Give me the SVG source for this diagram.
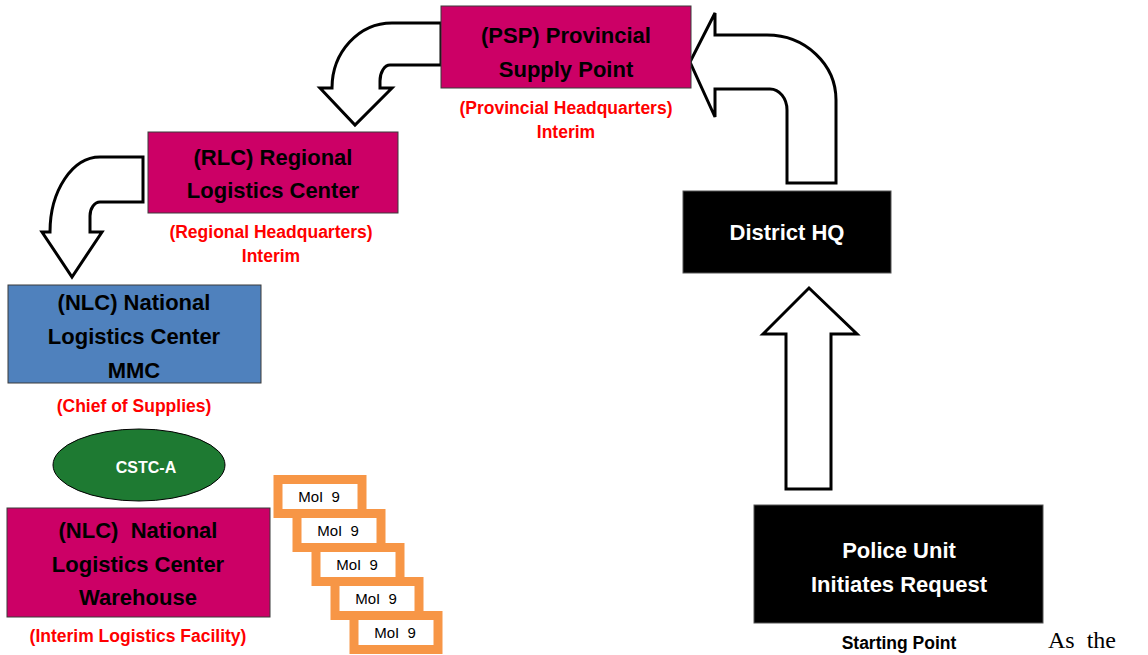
<svg xmlns="http://www.w3.org/2000/svg" width="1148" height="655" viewBox="0 0 1148 655">
  <style>
    .box { fill: #CC0066; stroke: #3a3a3a; stroke-width: 1; }
    .blue { fill: #4F81BD; stroke: #3a3a3a; stroke-width: 1; }
    .dark { fill: #000000; stroke: #555555; stroke-width: 1; }
    .title { font-family: "Liberation Sans", Arial, sans-serif; font-weight: bold; font-size: 22px; text-anchor: middle; fill: #000000; }
    .white { fill: #FFFFFF; }
    .note { font-family: "Liberation Sans", Arial, sans-serif; font-weight: bold; font-size: 17.5px; text-anchor: middle; fill: #FF0000; }
    .arrow { fill: #FFFFFF; stroke: #000000; stroke-width: 3; stroke-linejoin: miter; }
    .tag { fill: #FFFFFF; stroke: #F79646; stroke-width: 9; }
    .tagtext { font-family: "Liberation Sans", Arial, sans-serif; font-size: 15px; text-anchor: middle; fill: #000000; }
  </style>

  <rect width="1148" height="655" fill="#FFFFFF"/>

  <!-- block arrows between the stations -->
  <g id="connectors">
    <path class="arrow" d="M 441,23 L 392,23 A 60 65 0 0 0 332,88 L 320,88 L 355,125 L 392,88 L 380,88 L 380,81 A 10 16 0 0 1 390,65 L 441,65 Z"/>
    <path class="arrow" d="M 143,157 L 100,157 A 50 75 0 0 0 50,232 L 42,232 L 72,277 L 102,232 L 90,232 L 90,216 A 10 14 0 0 1 100,202 L 143,202 Z"/>
    <path class="arrow" d="M 787,183 L 787,110 A 17 21 0 0 0 770,89 L 715,89 L 715,117 L 690,62 L 715,13 L 715,35 L 767,35 A 69 65 0 0 1 836,100 L 836,183 Z"/>
    <path class="arrow" d="M 786,489 L 786,334 L 763,334 L 809,288 L 857,334 L 831,334 L 831,489 Z"/>
  </g>

  <g id="psp">
    <rect class="box" x="441" y="6" width="250" height="82"/>
    <text class="title" x="566" y="43">(PSP) Provincial</text>
    <text class="title" x="566" y="77">Supply Point</text>
    <text class="note" x="566" y="114">(Provincial Headquarters)</text>
    <text class="note" x="566" y="138">Interim</text>
  </g>

  <g id="rlc">
    <rect class="box" x="148" y="132" width="250" height="81"/>
    <text class="title" x="273" y="165">(RLC) Regional</text>
    <text class="title" x="273" y="198">Logistics Center</text>
    <text class="note" x="271" y="238">(Regional Headquarters)</text>
    <text class="note" x="271" y="262">Interim</text>
  </g>

  <g id="nlc-mmc">
    <rect class="blue" x="8" y="285" width="253" height="98"/>
    <text class="title" x="134" y="310">(NLC) National</text>
    <text class="title" x="134" y="344">Logistics Center</text>
    <text class="title" x="134" y="378">MMC</text>
    <text class="note" x="134" y="412">(Chief of Supplies)</text>
  </g>

  <g id="cstc-a">
    <ellipse cx="139" cy="465" rx="86" ry="36" fill="#1E7A32" stroke="#000000" stroke-width="1"/>
    <text class="title white" x="146" y="473" style="font-size:16px">CSTC-A</text>
  </g>

  <g id="nlc-warehouse">
    <rect class="box" x="7" y="508" width="263" height="109"/>
    <text class="title" x="138" y="538">(NLC)&#160; National</text>
    <text class="title" x="138" y="572">Logistics Center</text>
    <text class="title" x="138" y="605">Warehouse</text>
    <text class="note" x="138" y="642">(Interim Logistics Facility)</text>
  </g>

  <g id="moi-tags">
    <rect class="tag" x="278" y="479.5" width="84" height="34"/>
    <text class="tagtext" x="319" y="502">MoI&#160; 9</text>
    <rect class="tag" x="297" y="513.5" width="84" height="34"/>
    <text class="tagtext" x="338" y="536">MoI&#160; 9</text>
    <rect class="tag" x="316" y="547.5" width="84" height="34"/>
    <text class="tagtext" x="357" y="570">MoI&#160; 9</text>
    <rect class="tag" x="335" y="581.5" width="84" height="34"/>
    <text class="tagtext" x="376" y="604">MoI&#160; 9</text>
    <rect class="tag" x="354" y="615.5" width="84" height="34"/>
    <text class="tagtext" x="395" y="638">MoI&#160; 9</text>
  </g>

  <g id="district-hq">
    <rect class="dark" x="683" y="191" width="208" height="82"/>
    <text class="title white" x="787" y="240">District HQ</text>
  </g>

  <g id="police-unit">
    <rect class="dark" x="754" y="505" width="289" height="118"/>
    <text class="title white" x="899" y="558">Police Unit</text>
    <text class="title white" x="899" y="592">Initiates Request</text>
    <text class="title" x="899" y="649" style="font-size:17.5px">Starting Point</text>
  </g>

  <text x="1048" y="648" font-family="'Liberation Serif', 'Times New Roman', serif" font-size="24" fill="#000000">As&#160; the</text>
</svg>
